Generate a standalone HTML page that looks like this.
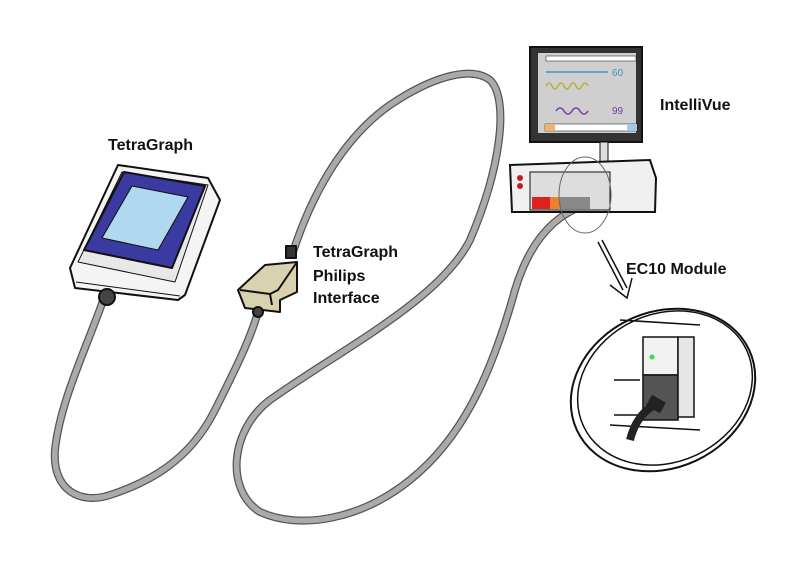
<!DOCTYPE html>
<html><head><style>
body{margin:0;background:#fff;width:800px;height:565px;overflow:hidden}
svg{display:block}
text{font-family:"Liberation Sans",sans-serif;font-weight:bold;font-size:16px;fill:#111}
</style></head><body>
<svg width="800" height="565" viewBox="0 0 800 565">
<g fill="none" stroke-linecap="round">
<path d="M105 295 C90 340 60 400 55 450 C52 490 80 505 110 495 C150 482 190 460 215 410 C235 370 250 340 258 312" stroke="#555" stroke-width="8"/>
<path d="M105 295 C90 340 60 400 55 450 C52 490 80 505 110 495 C150 482 190 460 215 410 C235 370 250 340 258 312" stroke="#aaa" stroke-width="5.5"/>
<path d="M293 252 C310 200 340 140 390 105 C430 78 470 65 490 80 C510 100 500 170 470 240 C440 300 340 350 270 400 C230 430 225 490 260 512 C300 530 360 520 410 480 C460 440 490 380 515 290 C530 240 555 215 585 205" stroke="#555" stroke-width="8"/>
<path d="M293 252 C310 200 340 140 390 105 C430 78 470 65 490 80 C510 100 500 170 470 240 C440 300 340 350 270 400 C230 430 225 490 260 512 C300 530 360 520 410 480 C460 440 490 380 515 290 C530 240 555 215 585 205" stroke="#aaa" stroke-width="5.5"/>
</g>
<g stroke="#111" stroke-width="2" stroke-linejoin="round">
<path d="M70 268 L118 165 L208 178 L220 200 L185 295 L178 300 L75 288 Z" fill="#f4f4f4"/>
<path d="M78 262 L122 172 L208 185 L175 282 Z" fill="#e8e8e8" stroke-width="1"/>
<path d="M84 250 L124 172 L205 186 L172 268 Z" fill="#3a3aa0"/>
<path d="M102 238 L132 186 L188 197 L158 250 Z" fill="#b0d8ee" stroke-width="1"/>
<path d="M76 282 L180 296" stroke-width="1"/>
<circle cx="107" cy="297" r="8" fill="#444"/>
</g>
<text x="108" y="150">TetraGraph</text>
<g stroke="#111" stroke-width="2" stroke-linejoin="round">
<path d="M238 290 L265 265 L297 262 L297 292 L280 300 L280 312 L245 308 Z" fill="#d9d2b0"/>
<path d="M240 290 L270 294 L278 290 L297 262" fill="none"/>
<path d="M270 294 L272 305" fill="none"/>
<rect x="286" y="246" width="10" height="12" fill="#333"/>
<circle cx="258" cy="312" r="5" fill="#444"/>
</g>
<text x="313" y="257">TetraGraph</text>
<text x="313" y="281">Philips</text>
<text x="313" y="303">Interface</text>
<g stroke="#111" stroke-width="2">
<rect x="530" y="47" width="112" height="95" fill="#333"/>
<rect x="538" y="53" width="98" height="80" fill="#cfcfcf" stroke="none"/>
<rect x="546" y="56" width="90" height="5" fill="#fff" stroke-width="0.5"/>
<path d="M546 72 H608" stroke="#4a8fc0" stroke-width="1.5"/>
<path d="M546 86 q3 -6 6 0 t6 0 t6 0 t6 0 t6 0 t6 0 t6 0" stroke="#b8b03a" stroke-width="1.5" fill="none"/>
<path d="M556 111 q4 -6 8 0 t8 0 t8 0 t8 0" stroke="#7a3aa0" stroke-width="1.5" fill="none"/>
<rect x="545" y="124" width="92" height="7" fill="#fff" stroke-width="0.5"/>
<rect x="545" y="124" width="10" height="7" fill="#f0b070" stroke="none"/>
<rect x="627" y="124" width="10" height="7" fill="#a0c8e8" stroke="none"/>
<rect x="600" y="142" width="8" height="20" fill="#ddd" stroke-width="1"/>
<path d="M510 165 L650 160 L656 178 L655 212 L512 212 Z" fill="#f0f0f0"/>
<rect x="530" y="172" width="80" height="38" fill="#ddd" stroke-width="1"/>
<rect x="532" y="197" width="18" height="12" fill="#e02020" stroke="none"/>
<rect x="550" y="197" width="10" height="12" fill="#f08030" stroke="none"/>
<rect x="560" y="197" width="30" height="12" fill="#888" stroke="none"/>
<circle cx="520" cy="178" r="3" fill="#c02020" stroke="none"/>
<circle cx="520" cy="186" r="3" fill="#c02020" stroke="none"/>
</g>
<text x="612" y="76" stroke="none" style="font-size:10px;fill:#4a8fc0;font-weight:normal">60</text>
<text x="612" y="114" stroke="none" style="font-size:10px;fill:#7a3aa0;font-weight:normal">99</text>
<ellipse cx="585" cy="195" rx="26" ry="38" fill="none" stroke="#666" stroke-width="1"/>
<text x="660" y="110">IntelliVue</text>
<g stroke="#111" stroke-width="1.5" fill="none">
<path d="M598 242 L623 290"/><path d="M602 240 L627 288"/>
<path d="M610 285 L627 298 L632 278"/>
</g>
<text x="626" y="274">EC10 Module</text>
<g fill="none" stroke="#111" stroke-width="2">
<ellipse cx="663" cy="390" rx="95" ry="78" transform="rotate(-25 663 390)"/>
<ellipse cx="665" cy="388" rx="90" ry="74" transform="rotate(-25 665 388)" stroke-width="1.5"/>
</g>
<g stroke="#111" stroke-width="1.5">
<path d="M620 320 L700 325"/>
<rect x="643" y="337" width="35" height="38" fill="#f2f2f2"/>
<rect x="643" y="375" width="35" height="45" fill="#555"/>
<rect x="678" y="337" width="16" height="80" fill="#e6e6e6"/>
<path d="M614 380 L640 380 M614 415 L640 415 M610 425 L700 430" fill="none"/>
<circle cx="652" cy="357" r="2.5" fill="#30e050" stroke="none"/>
</g>
<path d="M630 440 C635 420 645 410 655 405" stroke="#222" stroke-width="8" fill="none"/>
<rect x="648" y="398" width="16" height="12" fill="#222" transform="rotate(30 656 404)"/>
</svg>
</body></html>
